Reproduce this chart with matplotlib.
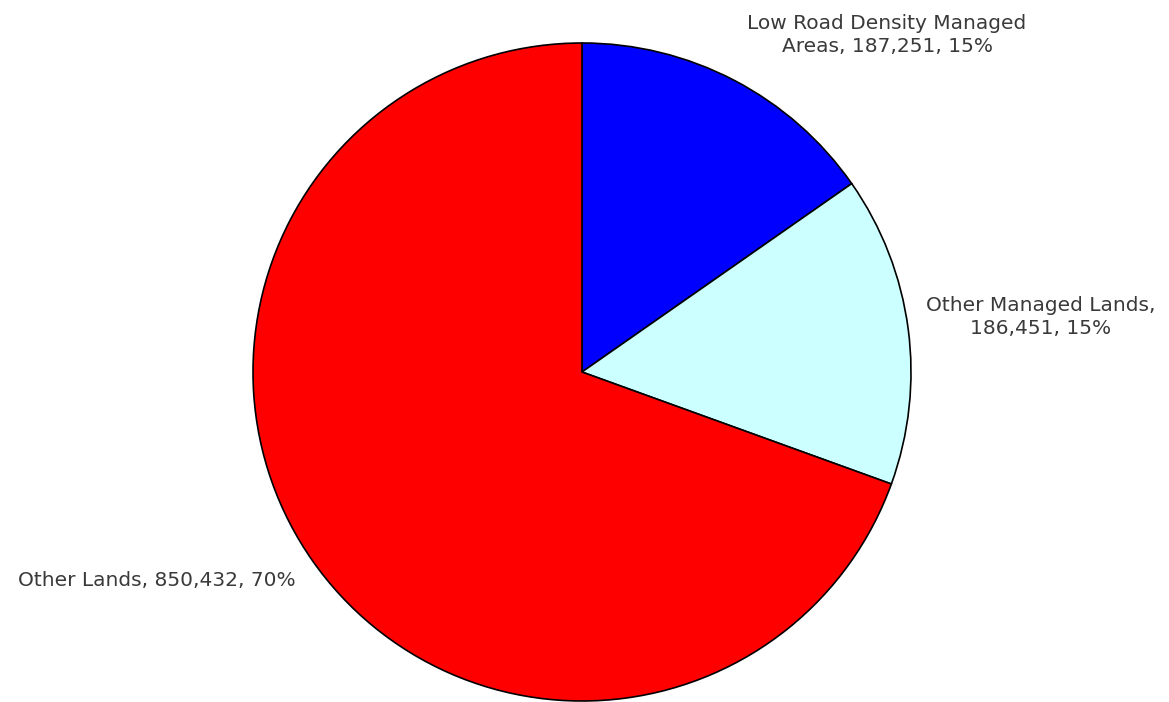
import matplotlib.pyplot as plt

# land area by category
names = ['Low Road Density Managed\nAreas', 'Other Managed Lands,\n', 'Other Lands']
areas = [187251, 186451, 850432]
percents = [15, 15, 70]
colors = ['#0000ff', '#ccffff', '#ff0000']

fig = plt.figure(figsize=(11.69, 7.02), dpi=100)
ax = fig.add_axes([0, 0, 1, 1])

wedges, _ = ax.pie(areas, colors=colors, startangle=90, counterclock=False,
                   center=(582, 330), radius=329,
                   wedgeprops=dict(edgecolor='black', linewidth=1.2))
ax.set_xlim(0, 1169)
ax.set_ylim(0, 702)
ax.set_aspect('equal')
ax.axis('off')

txt = dict(fontsize=14.5, color='#3a3a3a', family='DejaVu Sans', ha='center', va='center',
           linespacing=1.3)
ax.text(887, 667, f'{names[0]}, {areas[0]:,}, {percents[0]}%', **txt)
ax.text(1041, 385, f'{names[1]}{areas[1]:,}, {percents[1]}%', **txt)
ax.text(157, 122, f'{names[2]}, {areas[2]:,}, {percents[2]}%', **txt)

fig.savefig('out.png', dpi=100)
